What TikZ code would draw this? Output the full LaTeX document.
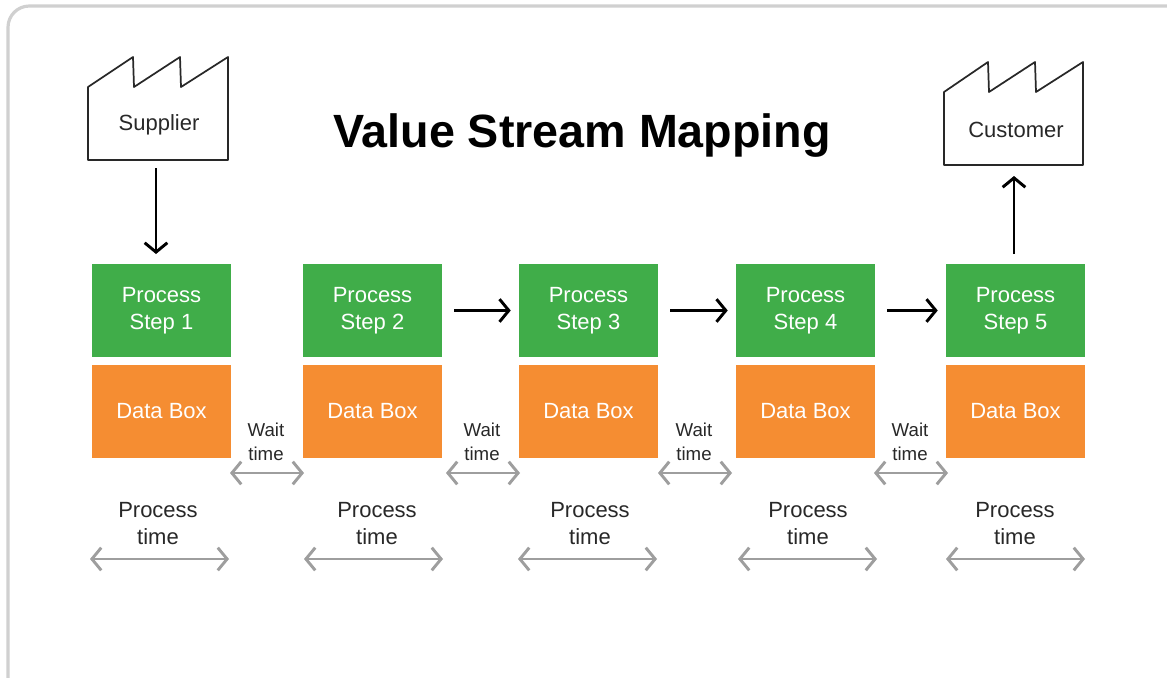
\documentclass[tikz,border=0pt]{standalone}
\usepackage{fontspec}
\setmainfont{Liberation Sans}
\usepackage{xcolor}
\usetikzlibrary{arrows.meta}
\definecolor{stepgreen}{RGB}{64,173,73}
\definecolor{dataorange}{RGB}{245,141,50}
\definecolor{spangray}{RGB}{158,158,158}
\definecolor{framegray}{RGB}{208,208,208}
\definecolor{labelgray}{RGB}{40,40,40}
\tikzset{
    stepbox/.style={fill=stepgreen,text=white,minimum width=104.25pt,minimum height=69.75pt,inner sep=0pt,align=center,font=\fontsize{16.5}{20}\selectfont},
    databox/.style={fill=dataorange,text=white,minimum width=104.25pt,minimum height=69.75pt,inner sep=0pt,font=\fontsize{16.5}{20}\selectfont},
    flow/.style={black,line width=2.2pt,-{Straight Barb[length=7pt,width=17pt,line width=2.2pt]}},
    span/.style={spangray,line width=2.2pt,{Straight Barb[length=7pt,width=17pt,line width=2.2pt]}-{Straight Barb[length=7pt,width=17pt,line width=2.2pt]}},
    factory/.style={labelgray,line width=1.3pt,line join=round},
    timelabel/.style={text=labelgray,align=center,inner sep=0pt,font=\fontsize{16.5}{20}\selectfont},
    waitlabel/.style={text=labelgray,align=center,inner sep=0pt,font=\fontsize{14}{18}\selectfont}
}
\begin{document}
\begin{tikzpicture}[x=0.75pt,y=-0.75pt]
    \useasboundingbox (0,0) rectangle (1167,678);

    % Frame
    \draw[framegray,line width=2.4pt,rounded corners=16pt] (8,700) -- (8,6) -- (1190,6);

    % Title
    \node[font=\bfseries\fontsize{35}{40}\selectfont,inner sep=0pt] (title) at (582,136) {Value Stream Mapping};

    % Factories
    \draw[factory] (88,87) -- (133,57) -- (134,87) -- (180,57) -- (181,87) -- (228,57) -- (228,160) -- (88,160) -- cycle;
    \node[text=labelgray,inner sep=0pt,font=\fontsize{16.5}{20}\selectfont] (supplier) at (159,125) {Supplier};
    \draw[factory] (944,92) -- (988,62) -- (989,92) -- (1035,62) -- (1036,92) -- (1083,62) -- (1083,165) -- (944,165) -- cycle;
    \node[text=labelgray,inner sep=0pt,font=\fontsize{16.5}{20}\selectfont] (customer) at (1016,130) {Customer};

    % Process boxes, data boxes and process time
    \foreach \i/\xbox/\xspan/\xtext in {1/161.5/159.5/158,2/372.5/373.5/377,3/588.5/587.5/590,4/805.5/807.5/808,5/1015.5/1015.5/1015} {
        \node[stepbox] (step\i) at (\xbox,310.5) {Process\\Step \i};
        \node[databox] (data\i) at (\xbox,411.5) {\raisebox{0pt}{Data Box}};
        \node[timelabel] (ptime\i) at (\xtext,523.5) {Process\\time};
        \coordinate (pl\i) at (\xspan-69.5,559);
        \coordinate (pr\i) at (\xspan+69.5,559);
        \draw[span] (pl\i) -- (pr\i);
    }

    % Wait time
    \foreach \i/\xspan in {1/267,2/483,3/695,4/911} {
        \node[waitlabel] (wtime\i) at (\xspan-1,442) {Wait\\time};
        \coordinate (wl\i) at (\xspan-37,473);
        \coordinate (wr\i) at (\xspan+37,473);
        \draw[span] (wl\i) -- (wr\i);
    }

    % Flow arrows
    \coordinate (supout) at (156,168);
    \coordinate (stepin) at (156,254);
    \draw[flow] (supout) -- (stepin);
    \coordinate (stepout) at (1014,254);
    \coordinate (custin) at (1014,176);
    \draw[flow] (stepout) -- (custin);
    \foreach \a/\b in {2/3,3/4,4/5} {
        \draw[flow,shorten <=9pt,shorten >=6pt] (step\a) -- (step\b);
    }
\end{tikzpicture}
\end{document}
